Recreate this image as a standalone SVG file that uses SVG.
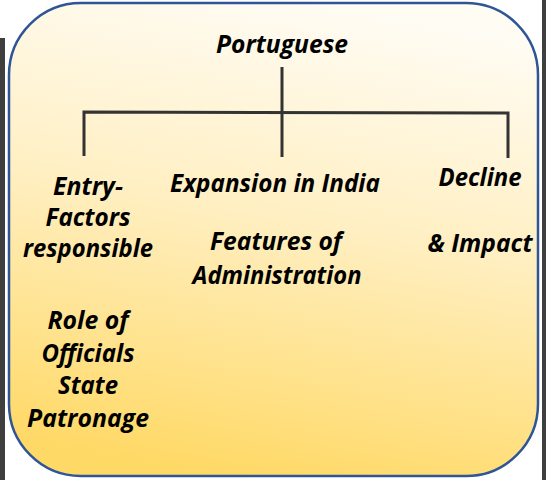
<svg xmlns="http://www.w3.org/2000/svg" width="548" height="480" viewBox="0 0 548 480">
  <defs>
    <linearGradient id="bg" x1="0.6" y1="0" x2="0.4" y2="1">
      <stop offset="0" stop-color="#fffcf4"/>
      <stop offset="0.45" stop-color="#ffefc2"/>
      <stop offset="1" stop-color="#ffd966"/>
    </linearGradient>
    <style>
      .t { font-family: "Open Sans", "Noto Sans", "Liberation Sans", sans-serif; font-weight: bold; font-style: italic; font-size: 24.5px; fill: #000; text-anchor: middle; }
      .ln { stroke: #333333; stroke-width: 3; fill: none; }
      .bar { fill: #3f3f3f; }
    </style>
  </defs>
  <rect x="0" y="0" width="548" height="480" fill="#ffffff"/>
  <rect class="bar" x="0" y="38" width="5" height="442"/>
  <rect class="bar" x="542" y="0" width="4" height="480"/>
  <g id="frame">
    <rect x="9" y="3" width="529" height="473" rx="72" ry="72" fill="url(#bg)" stroke="#2f5597" stroke-width="2.5"/>
  </g>
  <g id="connectors">
    <line class="ln" x1="282" y1="67" x2="282" y2="157"/>
    <polyline class="ln" points="84,156 84,112 508,113 508,158"/>
  </g>
  <g id="root">
    <text class="t" x="282" y="53" textLength="132" lengthAdjust="spacingAndGlyphs">Portuguese</text>
  </g>
  <g id="entry">
    <text class="t" x="88" y="195" textLength="70" lengthAdjust="spacingAndGlyphs">Entry-</text>
    <text class="t" x="88" y="226" textLength="85" lengthAdjust="spacingAndGlyphs">Factors</text>
    <text class="t" x="88" y="257" textLength="130" lengthAdjust="spacingAndGlyphs">responsible</text>
    <text class="t" x="88" y="329" textLength="81" lengthAdjust="spacingAndGlyphs">Role of</text>
    <text class="t" x="88" y="362" textLength="93" lengthAdjust="spacingAndGlyphs">Officials</text>
    <text class="t" x="88" y="394" textLength="60" lengthAdjust="spacingAndGlyphs">State</text>
    <text class="t" x="88" y="427" textLength="122" lengthAdjust="spacingAndGlyphs">Patronage</text>
  </g>
  <g id="expansion">
    <text class="t" x="275" y="192" textLength="210" lengthAdjust="spacingAndGlyphs">Expansion in India</text>
    <text class="t" x="276" y="250" textLength="132" lengthAdjust="spacingAndGlyphs">Features of</text>
    <text class="t" x="277" y="284" textLength="169" lengthAdjust="spacingAndGlyphs">Administration</text>
  </g>
  <g id="decline">
    <text class="t" x="480" y="186" textLength="83" lengthAdjust="spacingAndGlyphs">Decline</text>
    <text class="t" x="480" y="252" textLength="105" lengthAdjust="spacingAndGlyphs">&amp; Impact</text>
  </g>
</svg>
